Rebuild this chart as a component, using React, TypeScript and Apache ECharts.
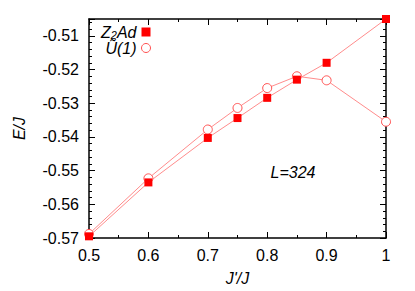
import React, { useEffect, useRef } from "react";
import * as echarts from "echarts";

const xValues = [0.5, 0.6, 0.7, 0.75, 0.8, 0.85, 0.9, 1.0];
const z2adValues = [-0.5695, -0.5535, -0.5403, -0.5344, -0.5284, -0.523, -0.518, -0.505];
const u1Values = [-0.5688, -0.5523, -0.5378, -0.5314, -0.5255, -0.522, -0.5232, -0.5355];
const seriesNames = ["Z2Ad", "U1"];
const annotation = "L=324";

const FONT = "'Liberation Sans', Arial, sans-serif";
const FS = 16;

export default function App() {
  const ref = useRef<HTMLDivElement>(null);
  useEffect(() => {
    document.body.style.margin = "0";
    if (!ref.current) return;
    const chart = echarts.init(ref.current, null, { renderer: "svg" });
    const pair = (ys: number[]) => xValues.map((x, i) => [x, ys[i]]);
    const axisCommon = {
      type: "value" as const,
      axisLine: { show: true, onZero: false, lineStyle: { color: "#000", width: 1.5 } },
      axisTick: { show: true, inside: true, length: 6, lineStyle: { color: "#000", width: 1 } },
      splitLine: { show: false },
    };
    chart.setOption({
      animation: false,
      backgroundColor: "#fff",
      grid: { left: 89, right: 29, top: 19, bottom: 52, containLabel: false },
      xAxis: [
        {
          ...axisCommon,
          position: "bottom",
          min: 0.5,
          max: 1.0,
          interval: 0.1,
          minorTick: { show: true, splitNumber: 2, length: 3, lineStyle: { color: "#000" } },
          axisLabel: {
            color: "#000",
            fontSize: FS,
            fontFamily: FONT,
            margin: 9,
            formatter: (v: number) => String(+v.toFixed(2)),
          },
          name: "J'/J",
          nameLocation: "middle",
          nameGap: 32,
          nameTextStyle: { color: "#000", fontSize: FS, fontStyle: "italic", fontFamily: FONT },
        },
        {
          ...axisCommon,
          position: "top",
          min: 0.5,
          max: 1.0,
          interval: 0.1,
          minorTick: { show: true, splitNumber: 2, length: 3, lineStyle: { color: "#000" } },
          axisLabel: { show: false },
        },
      ],
      yAxis: [
        {
          ...axisCommon,
          position: "left",
          min: -0.57,
          max: -0.505,
          interval: 0.01,
          minorTick: { show: true, splitNumber: 5, length: 3, lineStyle: { color: "#000" } },
          axisLabel: {
            color: "#000",
            fontSize: FS,
            fontFamily: FONT,
            margin: 10,
            showMaxLabel: false,
            formatter: (v: number) => v.toFixed(2),
          },
          name: "E/J",
          nameLocation: "middle",
          nameGap: 62,
          nameTextStyle: { color: "#000", fontSize: FS, fontStyle: "italic", fontFamily: FONT },
        },
        {
          ...axisCommon,
          position: "right",
          min: -0.57,
          max: -0.505,
          interval: 0.01,
          minorTick: { show: true, splitNumber: 5, length: 3, lineStyle: { color: "#000" } },
          axisLabel: { show: false },
        },
      ],
      legend: {
        show: true,
        orient: "vertical",
        align: "right",
        right: 264,
        top: 23,
        padding: 0,
        itemWidth: 9,
        itemHeight: 9,
        itemGap: 0,
        formatter: (name: string) =>
          name === "Z2Ad" ? "{i|Z}{s|2}{i|Ad}" : "{i|Ũ(1)}",
        textStyle: {
          fontFamily: FONT,
          fontSize: FS,
          fontStyle: "italic",
          color: "#000",
          rich: {
            i: { fontFamily: FONT, fontSize: FS, fontStyle: "italic", color: "#000", lineHeight: 16 },
            s: { fontFamily: FONT, fontSize: 11, fontStyle: "italic", color: "#000", lineHeight: 16, verticalAlign: "bottom", padding: [6, 0, 0, 0] },
          },
        },
        data: [
          { name: seriesNames[0], icon: "rect", itemStyle: { color: "#ff0000" } },
          {
            name: seriesNames[1],
            icon: "circle",
            itemStyle: { color: "#ffffff", borderColor: "#ff5050", borderWidth: 1 },
          },
        ],
      },
      series: [
        {
          name: seriesNames[0],
          type: "line",
          data: pair(z2adValues),
          symbol: "rect",
          symbolSize: 8,
          itemStyle: { color: "#ff0000" },
          lineStyle: { color: "#ff8c8c", width: 1 },
        },
        {
          name: seriesNames[1],
          type: "line",
          data: pair(u1Values),
          symbol: "circle",
          symbolSize: 9,
          itemStyle: { color: "#ffffff", borderColor: "#ff5050", borderWidth: 1 },
          lineStyle: { color: "#ff8c8c", width: 1 },
          z: 1,
        },
      ],
      graphic: [
        {
          type: "text",
          x: 293,
          y: 172,
          style: {
            text: annotation,
            fontFamily: FONT,
            fontSize: FS,
            fontStyle: "italic",
            fill: "#000",
            align: "center",
            verticalAlign: "middle",
          },
        },
      ],
    });
    return () => chart.dispose();
  }, []);
  return <div ref={ref} style={{ width: 415, height: 291 }} />;
}
